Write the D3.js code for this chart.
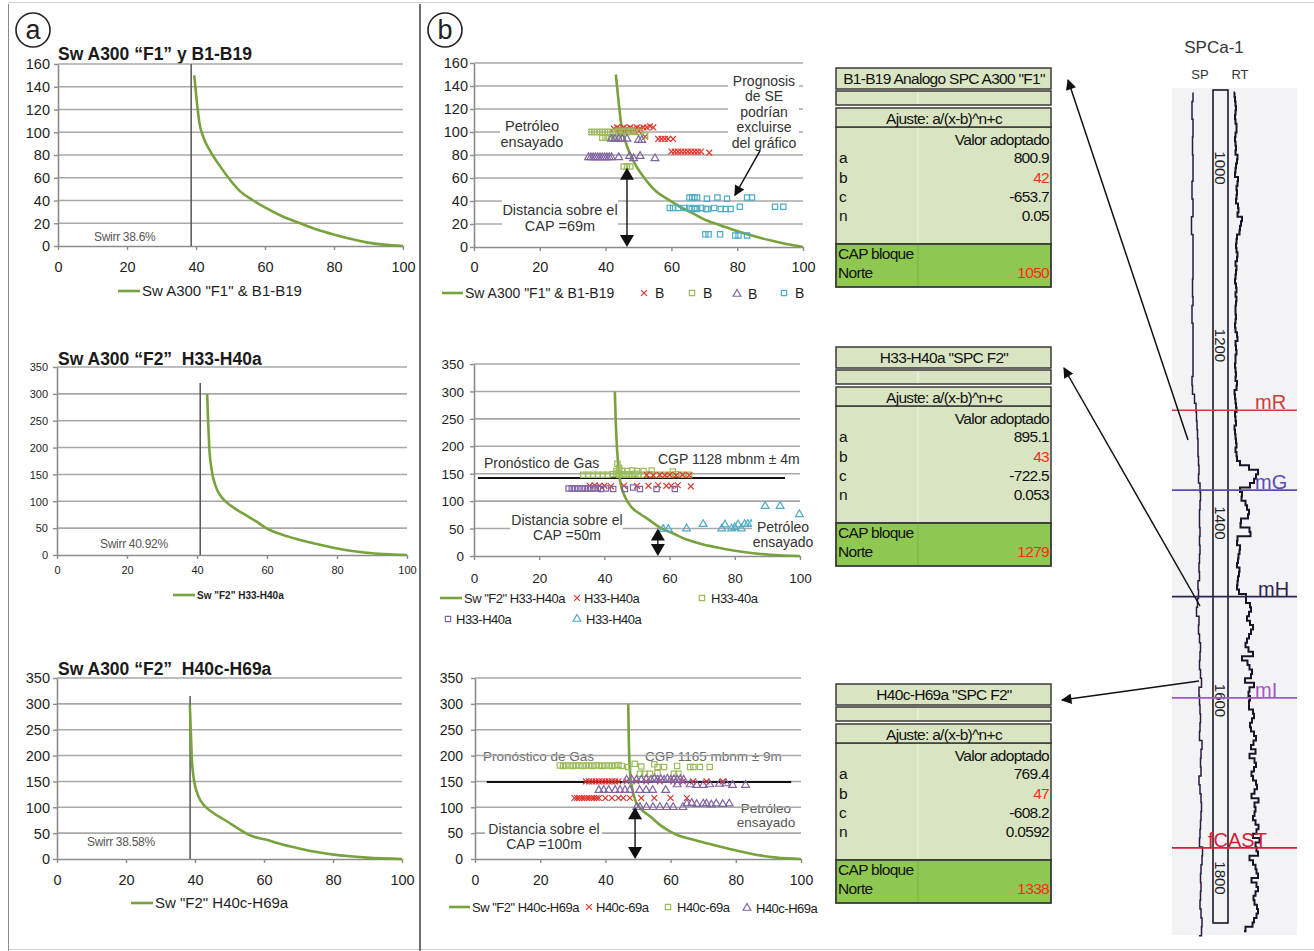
<!DOCTYPE html>
<html>
<head>
<meta charset="utf-8">
<script src="https://cdn.jsdelivr.net/npm/d3@7"></script>
<style>
  body { margin: 0; background: #fff; }
  svg { display: block; }
  text { font-family: 'Liberation Sans', Arial, sans-serif; }
</style>
</head>
<body>
<script>
// ---------- data ----------
const xTicks = [0, 20, 40, 60, 80, 100];
const yTicksF1 = [0, 20, 40, 60, 80, 100, 120, 140, 160];
const yTicksF2 = [0, 50, 100, 150, 200, 250, 300, 350];

// Saturation-height curves (Sw %, height m)
const swA300F1 = [[39.5,150],[40.2,128],[41,108],[42.1,96],[44,84],[47,70],[49.9,58],[52.8,48],[56.6,40],[60.5,33],[65.3,25.7],[70.2,20],[75,14.6],[79.9,10.2],[84.7,6.4],[89.5,3.2],[94.4,1.2],[100,0]];
const swF2H33 = [[42.9,300],[43.2,245],[43.5,201],[44.2,158],[45.4,127],[47,108],[49.4,93],[53.2,77],[57,62],[59.9,49.6],[64.7,37],[69.5,28],[74.2,20.4],[79,13.6],[83.8,8],[88.5,4.3],[93.3,1.9],[100,0]];
const swF2H40 = [[38.5,298],[38.8,244],[39.1,192],[39.7,153],[41,121],[42.9,102],[45.3,89],[49.2,73],[53,57],[55.5,47],[60.8,37],[65.6,27.7],[70.5,20],[75.3,13.5],[80.2,8.4],[85,5.2],[89.8,2.6],[100,0]];

const swB1B19 = [[43.1,150],[43.9,128],[44.7,107.6],[45.9,93],[47.4,81.4],[49.4,69.8],[51.5,61],[53.5,53.8],[55.5,48],[58.6,42],[62.6,35],[66.7,29],[70.8,23],[74.8,19],[79.9,14],[85,9.6],[90,5.8],[95,2.6],[100,0]];
const swH33fit = [[43.2,300],[43.5,242],[43.9,193],[44.5,150],[45.2,126],[46.3,108],[48.3,89],[50.9,77],[53.9,65],[57,52],[61.1,41],[65.2,30],[70.3,21],[75.4,14.6],[80.6,9],[85.7,4.9],[90.8,2.4],[100,0]];
const swH40fit = [[47,300],[47.2,224],[47.5,173],[48.1,140.5],[49.1,115],[50.6,99],[53.7,82.5],[56.7,66],[59.8,53.5],[61.9,47],[67,37],[72.1,29],[77.2,21],[82.3,13.5],[87.4,7],[92.5,2.6],[100,0]];

// Irreducible water saturation (%)
const swirrValues = [38.6, 40.92, 38.58];

// Log-derived points, B1-B19
const bTopRed = [[42.5,103],[43.5,104],[44.5,103],[45.5,104],[46.5,103],[47.5,104],[48.5,103],[49.5,104],[50.5,103],[51.5,104],[52.5,104],[53.5,105],[54.5,104],
  [44,100],[46,100],[48,100],[50,101],[52,96],
  [56,94],[57,94],[58,94],[59,94],[60.5,94],
  [60,83],[61,83],[62,83],[63,83],[64,83],[65,83],[66,83],[67,83],[68,83],[69,83],[71.5,82]];
const bTopGreen = [[35,100],[35.8,100],[36.6,100],[37.4,100],[38.2,100],[39,100],[39.8,100],[40.6,100],[41.4,100],[42.2,100],[43,100],[44,101],[45,100],[46,101],[47,100],[48,101],[49,100],[50.5,100],
  [39,95],[40,95],[41,95],[42,95],[43,95],[44,95],[52,97],
  [45.5,70],[46.5,70],[47.5,70]];
const bTopPurple = [[34.8,78],[35.5,78],[36.2,78],[36.9,78],[37.6,78],[38.3,78],[39,78],[39.7,78],[40.4,78],[41.1,78],[41.8,78],[44,78],[47.3,79],[48.5,77],[50.5,79],[55,77],
  [41.8,94],[42.8,94],[44,94],[45,94],[46.5,94],[50,93],[51,93]];
const bTopBlue = [[65.5,43],[66.3,43],[67,43],[67.8,43],[70.8,42],[74,43],[76.9,42],[83,43],[84.5,43],
  [59.5,34],[60.5,34],[62,34],[64,34],[65.5,34],[66.2,33],[67,34],[67.8,33],[69,34],[70.5,33],[71,33],[73,34],[75,33],[76.5,33],[78,33],[80.8,35],[91.5,35],[94,35],
  [70.3,11],[71.3,11],[74.8,11],[79.4,10],[80.4,10],[83,10]];

// Log-derived points, H33-H40a
const bMidRed = [[53,148],[55,147],[57,148],[58.5,147],[60,148],[62,147],[64,148],[66,147],
  [35.5,128],[37,129],[38.5,128],[40,128],[42,127],[46,128],[50,128],[53.5,128],[56.5,129],[59,128],[60.5,128],[62.5,129],[66.5,127]];
const bMidGreen = [[33.5,148],[35,148],[36.5,148],[38,148],[39.5,148],[41,148],[42.5,149],[43.5,150],[44.5,148],[45.5,149],[46.5,148],[47.5,149],[48.5,148],[49.5,150],[50.5,148],[52,148],[54,149],[56,148],[58,148],[60,148],[62,149],[64,148],[66,148],
  [43.7,155],[44.5,157],[45.5,155],[47,155],[48.5,156],[50,155],[52,155],[54.5,156],[61,154],[44,168],[44.5,161]];
const bMidPurple = [[29,123],[30,123],[31,123],[32,123],[33,123],[34,123],[35,123],[36,123],[37,123],[38,124],[39,122],[40.5,123],[42.7,122],[46.3,122],[48.8,125],[50.9,122],[56,122],[61.6,122]];
const bMidBlue = [[58,49],[59.6,49],[65.2,50],[70.3,58],[76,50],[77,57],[79,50],[80,52],[81,57],[82,50],[83,58],[84,58],[85,58],[89.3,91],[93.9,91],[99.8,76]];

// Log-derived points, H40c-H69a
const bBotRed = [[34,150],[35,150],[36,150],[37,150],[38,150],[39,150],[40,150],[41,150],[42,150],[43,150],[44,150],[46.5,150],[49.5,150],[52.5,150],[56.7,150],[60.8,150],[63.8,150],[66.9,150],[71,150],[76,150],
  [30.5,118],[31.3,118],[32,118],[32.8,118],[33.5,118],[34.3,118],[35,118],[35.8,118],[36.5,118],[37.3,118],[38,118],[40,118],[42,118],[44,118],[45.5,118],[47.5,118],[51,118],[55,118],[60,118],[65,118]];
const bBotGreen = [[26,181],[27,180],[28,181],[29,181],[30,180],[31,181],[32,181],[33,180],[34,181],[35,181],[36,180],[37,181],[38,181],[39,180],[40,181],[41,181],[42,180],[43,181],[44,182],[45,180],
  [47,178],[49,184],[51,179],[55,183],[56,178],[58,178],[62,180],[66,178],[67,178],[69,178],[72,178],
  [50.6,165],[52,165],[53.7,165],[56,166],[61,165],[62.4,165]];
const bBotPurple = [[46.5,153],[48,154],[49.5,153],[51,153],[52.5,154],[54,153],[55,155],[56,153],[57,154],[58,153],[59,155],[60,153],[61,154],[62,153],[63,154],[64,153],
  [62,144],[66,144],[68,143],[70,143],[72,144],[75,145],[77,146],[79,143],[83,143],
  [38,133],[39.5,133],[41,133],[43,133],[44.5,133],[46,133],[47.5,133],[50.5,133],[52.5,133],[54.5,133],[58.5,133],
  [49.6,100],[50.6,100],[52.6,100],[54.6,100],[56.7,100],[58.8,100],[60.8,100],[63.8,100],
  [65,107],[66.5,108],[68,106],[70,107],[71,107],[72.5,105],[74,107],[76,106],[78,107]];

// Gas forecast level (m above CAP) and distance above CAP (m)
const gasLevels = [142, 149];
const capDistances = [69, 50, 100];

// Fit tables
const tableTitles = ['B1-B19 Analogo SPC A300 "F1"', 'H33-H40a "SPC F2"', 'H40c-H69a "SPC F2"'];
const paramA = ['800.9', '895.1', '769.4'];
const paramB = ['42', '43', '47'];
const paramC = ['-653.7', '-722.5', '-608.2'];
const paramN = ['0.05', '0.053', '0.0592'];
const capNorte = ['1050', '1279', '1338'];

// Well SPCa-1 log
const depthLabels = [1000, 1200, 1400, 1600, 1800];
const topNames = ['mR', 'mG', 'mH', 'mI', 'fCAST'];
const topDepths = [1273, 1363, 1483, 1597, 1766];
const rtStart = 915, rtStep = 5;
const rtValues = [3,2,4,3,5,2,4,3,6,3, 4,2,5,3,4,7,3,5,2,4, 8,3,6,4,5,3,9,4,7,13, 5,11,4,6,3,5,4,7,3,4,
  5,3,4,2,6,3,4,5,3,4, 3,5,2,4,3,7,4,3,5,4, 3,4,2,5,3,4,6,3,2,4,3,5,
  4,2,5,3,2,4,3,5,4,3,6,4,12,22,30,18,26,10,
  6,14,5,22,8,26,6,12,5,30,7,4,6,10,5,8,4,6,9,5,7,4,6,8,
  20,8,28,10,24,6,30,12,26,8,22,5,28,14,6,25,10,30,8,18,26,9,24,12,
  22,12,30,14,26,10,28,16,32,11,27,20,15,30,18,26,13,29,19,31,14,25,28,17,30,15,27,20,33,16,26,29,18,31,21,14,28,19,30,22,17,32,20,27,16,29,21,31,18,26,15,12];
const spStart = 915, spStep = 10;
const spValues = [8,8,6,8,8,8,7,8,8,8, 8,6,8,8,8,5,8,8,8,8, 8,8,7,8,8,6,8,8,8,8, 8,8,8,6,9,10,12,11,13,12,
  14,12,15,13,14,16,15,15,14,15, 15,14,16,13,15,14,12,15,10,13, 15,12,17,14,16,13,18,15,13,16,
  14,17,13,16,18,14,17,15,13,17, 15,18,14,17,13,16,19,15,17,14, 18,13,17,15,19,14];

// ---------- styles ----------
const C = {
  curve: '#77a23c', red: '#e2332d', green: '#9bbb59', purple: '#8064a2', blue: '#4bacc6',
  grid: '#a8a8a8', axis: '#8c8c8c', text: '#1e1e1e', light: '#d9e5c2', dark: '#8fc850'
};

const svg = d3.select('body').append('svg').attr('width', 1314).attr('height', 951);
const defs = svg.append('defs');
defs.append('marker').attr('id', 'ah').attr('viewBox', '0 0 10 10')
  .attr('refX', 9).attr('refY', 5).attr('markerWidth', 8).attr('markerHeight', 7)
  .attr('orient', 'auto').append('path').attr('d', 'M0,0L10,5L0,10z').attr('fill', '#111');

// frame
svg.append('line').attr('x1', 8).attr('x2', 1314).attr('y1', 2.5).attr('y2', 2.5).attr('stroke', '#cfcfcf');
svg.append('line').attr('x1', 8).attr('x2', 1314).attr('y1', 949.5).attr('y2', 949.5).attr('stroke', '#cfcfcf');
svg.append('line').attr('x1', 8.5).attr('x2', 8.5).attr('y1', 4).attr('y2', 951).attr('stroke', '#8a8a8a');
svg.append('line').attr('x1', 420).attr('x2', 420).attr('y1', 4).attr('y2', 951).attr('stroke', '#707070').attr('stroke-width', 2);

// panel letters
[['a', 33], ['b', 445]].forEach(([t, cx]) => {
  svg.append('circle').attr('cx', cx).attr('cy', 30).attr('r', 17).attr('fill', '#fff').attr('stroke', '#222').attr('stroke-width', 1.6);
  svg.append('text').attr('x', cx).attr('y', 30).attr('dy', '0.33em').attr('text-anchor', 'middle')
    .attr('font-size', 27).attr('fill', '#222').text(t);
});

// ---------- helpers ----------
function chart(o) {
  const x = d3.scaleLinear().domain([0, 100]).range([o.left, o.right]);
  const y = d3.scaleLinear().domain([0, o.yMax]).range([o.bottom, o.top]);
  const root = svg.append('g');
  const under = root.append('g');
  root.append('g').selectAll('line').data(o.yTicks.slice(1)).join('line')
    .attr('x1', o.left).attr('x2', o.right).attr('y1', d => y(d)).attr('y2', d => y(d))
    .attr('stroke', C.grid).attr('stroke-width', 1.6);
  const ax = root.append('g').attr('transform', `translate(0,${o.bottom})`)
    .call(d3.axisBottom(x).tickValues(xTicks).tickSizeInner(4).tickSizeOuter(0));
  const ay = root.append('g').attr('transform', `translate(${o.left},0)`)
    .call(d3.axisLeft(y).tickValues(o.yTicks).tickSizeInner(4).tickSizeOuter(0));
  [ax, ay].forEach(a => {
    a.select('.domain').attr('stroke', C.axis).attr('stroke-width', 1.6);
    a.selectAll('.tick line').attr('stroke', C.axis).attr('stroke-width', 1.4);
    a.selectAll('text').attr('font-size', o.tick).attr('fill', C.text)
      .attr('font-family', "'Liberation Sans', Arial, sans-serif");
  });
  ax.selectAll('text').attr('y', o.xLab - o.bottom).attr('dy', '0.36em');
  ay.selectAll('text').attr('x', o.yLab).attr('dy', '0.34em');
  const marks = root.append('g');
  const over = root.append('g');
  return { x, y, under, marks, over };
}

function drawCurve(c, data) {
  c.marks.append('path').datum(data)
    .attr('d', d3.line().x(d => c.x(d[0])).y(d => c.y(d[1])).curve(d3.curveMonotoneX))
    .attr('fill', 'none').attr('stroke', C.curve).attr('stroke-width', 2.6);
}

const symType = { x: d3.symbolTimes || d3.symbolCross, sq: d3.symbolSquare, tri: d3.symbolTriangle };
const symSize = { x: 24, sq: 28, tri: 26 };
function symbolPath(type) { return d3.symbol().type(symType[type]).size(symSize[type])(); }

function drawPoints(c, data, type, color) {
  c.marks.append('g').selectAll('path').data(data).join('path')
    .attr('transform', d => `translate(${c.x(d[0])},${c.y(d[1])})`)
    .attr('d', symbolPath(type))
    .attr('fill', 'none').attr('stroke', color).attr('stroke-width', 1.2);
}

function legend(items, fs, weight, spacing) {
  items.forEach(it => {
    if (it.type === 'line') {
      svg.append('line').attr('x1', it.x).attr('x2', it.x2).attr('y1', it.y).attr('y2', it.y)
        .attr('stroke', C.curve).attr('stroke-width', 2.6);
    } else {
      svg.append('path').attr('transform', `translate(${it.x},${it.y})`).attr('d', symbolPath(it.type))
        .attr('fill', 'none').attr('stroke', it.color).attr('stroke-width', 1.2);
    }
    svg.append('text').attr('x', it.tx).attr('y', it.y).attr('dy', '0.35em')
      .attr('font-size', fs).attr('font-weight', weight || 'normal').attr('letter-spacing', spacing || 0)
      .attr('fill', C.text).text(it.text);
  });
}

function note(g, lines, x, yc, lh, fs, opts) {
  opts = opts || {};
  if (opts.box) {
    g.append('rect').attr('x', opts.box[0]).attr('y', opts.box[1])
      .attr('width', opts.box[2] - opts.box[0]).attr('height', opts.box[3] - opts.box[1]).attr('fill', '#fff');
  }
  lines.forEach((t, i) => {
    g.append('text').attr('x', x).attr('y', yc + i * lh).attr('dy', '0.35em')
      .attr('text-anchor', opts.anchor || 'middle').attr('font-size', fs)
      .attr('fill', opts.color || '#333').text(t);
  });
}

function swirr(c, v, topVal, label, lx, ly, fs) {
  c.marks.append('line').attr('x1', c.x(v)).attr('x2', c.x(v)).attr('y1', c.y(0)).attr('y2', c.y(topVal))
    .attr('stroke', '#555').attr('stroke-width', 1.5);
  c.over.append('text').attr('x', lx).attr('y', ly).attr('dy', '0.35em')
    .attr('font-size', fs).attr('fill', '#555').attr('letter-spacing', -0.3).text(label);
}

function dblArrow(c, xv, topVal, botVal) {
  const x0 = c.x(xv), yt = c.y(topVal), yb = c.y(botVal), h = 12, w = 7;
  c.over.append('line').attr('x1', x0).attr('x2', x0).attr('y1', yt + 4).attr('y2', yb - 4)
    .attr('stroke', '#111').attr('stroke-width', 1.4);
  c.over.append('path').attr('d', `M${x0},${yt}L${x0 - w},${yt + h}L${x0 + w},${yt + h}Z`).attr('fill', '#111');
  c.over.append('path').attr('d', `M${x0},${yb}L${x0 - w},${yb - h}L${x0 + w},${yb - h}Z`).attr('fill', '#111');
}

function title(t, x, y) {
  svg.append('text').attr('x', x).attr('y', y).attr('font-size', 17.5).attr('font-weight', 'bold')
    .attr('fill', '#1a1a1a').attr('xml:space', 'preserve').text(t);
}

// ---------- panel a ----------
title('Sw A300 \u201CF1\u201D y B1-B19', 58, 60);
const a1 = chart({ left: 58, right: 403, top: 64, bottom: 246, yMax: 160, yTicks: yTicksF1, tick: 14.5, xLab: 267, yLab: -8 });
swirr(a1, swirrValues[0], 160, 'Swirr 38.6%', 94, 237, 12);
drawCurve(a1, swA300F1);
legend([{ type: 'line', x: 118, x2: 140, y: 291, tx: 142, text: 'Sw A300 "F1" & B1-B19' }], 15);

title('Sw A300 \u201CF2\u201D\u00A0 H33-H40a', 58, 365);
const a2 = chart({ left: 57, right: 407, top: 367, bottom: 555, yMax: 350, yTicks: yTicksF2, tick: 11, xLab: 570, yLab: -9 });
swirr(a2, swirrValues[1], 320, 'Swirr 40.92%', 100, 544, 12);
drawCurve(a2, swF2H33);
legend([{ type: 'line', x: 173, x2: 195, y: 595, tx: 197, text: 'Sw "F2" H33-H40a' }], 10, 'bold');

title('Sw A300 \u201CF2\u201D\u00A0 H40c-H69a', 58, 675);
const a3 = chart({ left: 57, right: 402, top: 678, bottom: 859, yMax: 350, yTicks: yTicksF2, tick: 14.5, xLab: 880, yLab: -7 });
swirr(a3, swirrValues[2], 315, 'Swirr 38.58%', 87, 842, 12);
drawCurve(a3, swF2H40);
legend([{ type: 'line', x: 131, x2: 153, y: 903, tx: 155, text: 'Sw "F2" H40c-H69a' }], 15);

// ---------- panel b ----------
const b1 = chart({ left: 474, right: 803, top: 63, bottom: 247, yMax: 160, yTicks: yTicksF1, tick: 14.5, xLab: 267, yLab: -6 });
note(b1.over, ['Petróleo', 'ensayado'], 532, 126, 16, 14.5, { box: [500, 115, 588, 152] });
note(b1.over, ['Distancia sobre el', 'CAP =69m'], 560, 210, 16, 14.5, { box: [502, 196, 618, 234] });
note(b1.over, ['Prognosis', 'de SE', 'podrían', 'excluirse', 'del gráfico'], 764, 81, 15.5, 14, { box: [728, 72, 799, 152] });
drawCurve(b1, swB1B19);
drawPoints(b1, bTopRed, 'x', C.red);
drawPoints(b1, bTopGreen, 'sq', C.green);
drawPoints(b1, bTopPurple, 'tri', C.purple);
drawPoints(b1, bTopBlue, 'sq', C.blue);
dblArrow(b1, 46.5, capDistances[0], 0);
b1.over.append('line').attr('x1', b1.x(87)).attr('y1', b1.y(84)).attr('x2', b1.x(79.3)).attr('y2', b1.y(45))
  .attr('stroke', '#111').attr('stroke-width', 1.5).attr('marker-end', 'url(#ah)');
legend([
  { type: 'line', x: 442, x2: 463, y: 293, tx: 465, text: 'Sw A300 "F1" & B1-B19' },
  { type: 'x', color: C.red, x: 644, y: 293, tx: 655, text: 'B' },
  { type: 'sq', color: C.green, x: 692, y: 293, tx: 703, text: 'B' },
  { type: 'tri', color: C.purple, x: 737, y: 294, tx: 748, text: 'B' },
  { type: 'sq', color: C.blue, x: 784, y: 293, tx: 795, text: 'B' }
], 14);

const b2 = chart({ left: 474, right: 800, top: 364, bottom: 556, yMax: 350, yTicks: yTicksF2, tick: 13.5, xLab: 578, yLab: -10 });
note(b2.over, ['Pronóstico de Gas'], 484, 463, 0, 14, { anchor: 'start' });
note(b2.over, ['CGP 1128 mbnm ± 4m'], 658, 459, 0, 14, { anchor: 'start' });
note(b2.over, ['Distancia sobre el', 'CAP =50m'], 567, 520, 15, 14, { box: [510, 511, 623, 541] });
note(b2.over, ['Petróleo', 'ensayado'], 783, 527, 15, 14, { box: [752, 519, 813, 550] });
b2.marks.append('line').attr('x1', b2.x(1.2)).attr('x2', b2.x(95.4))
  .attr('y1', b2.y(gasLevels[0])).attr('y2', b2.y(gasLevels[0])).attr('stroke', '#111').attr('stroke-width', 2);
drawCurve(b2, swH33fit);
drawPoints(b2, bMidGreen, 'sq', C.green);
drawPoints(b2, bMidRed, 'x', C.red);
drawPoints(b2, bMidPurple, 'sq', C.purple);
drawPoints(b2, bMidBlue, 'tri', C.blue);
dblArrow(b2, 56.4, capDistances[1], 0);
legend([
  { type: 'line', x: 440, x2: 462, y: 598, tx: 464, text: 'Sw "F2" H33-H40a' },
  { type: 'x', color: C.red, x: 577, y: 598, tx: 584, text: 'H33-H40a' },
  { type: 'sq', color: C.green, x: 702, y: 598, tx: 711, text: 'H33-40a' },
  { type: 'sq', color: C.purple, x: 448, y: 619, tx: 456, text: 'H33-H40a' },
  { type: 'tri', color: C.blue, x: 577, y: 619, tx: 586, text: 'H33-H40a' }
], 13, 'normal', -0.5);

const b3 = chart({ left: 475, right: 801, top: 678, bottom: 859, yMax: 350, yTicks: yTicksF2, tick: 14, xLab: 880, yLab: -12 });
note(b3.under, ['Pronóstico de Gas'], 483, 756, 0, 13.5, { anchor: 'start', color: '#6a6a6a' });
note(b3.under, ['CGP 1165 mbnm ± 9m'], 645, 756, 0, 13.5, { anchor: 'start', color: '#6a6a6a' });
note(b3.under, ['Petróleo', 'ensayado'], 766, 808, 14, 13.5, { color: '#555' });
note(b3.over, ['Distancia sobre el', 'CAP =100m'], 544, 829, 15, 14, { box: [485, 820, 602, 851] });
b3.marks.append('line').attr('x1', b3.x(3.6)).attr('x2', b3.x(97))
  .attr('y1', b3.y(gasLevels[1])).attr('y2', b3.y(gasLevels[1])).attr('stroke', '#111').attr('stroke-width', 2);
drawCurve(b3, swH40fit);
drawPoints(b3, bBotGreen, 'sq', C.green);
drawPoints(b3, bBotRed, 'x', C.red);
drawPoints(b3, bBotPurple, 'tri', C.purple);
dblArrow(b3, 49.1, capDistances[2], 0);
legend([
  { type: 'line', x: 449, x2: 470, y: 907, tx: 472, text: 'Sw "F2" H40c-H69a' },
  { type: 'x', color: C.red, x: 589, y: 907, tx: 596, text: 'H40c-69a' },
  { type: 'sq', color: C.green, x: 668, y: 907, tx: 677, text: 'H40c-69a' },
  { type: 'tri', color: C.purple, x: 747, y: 908, tx: 756, text: 'H40c-H69a' }
], 13, 'normal', -0.5);

// ---------- fit tables ----------
function drawTable(i, top) {
  const L = 836, R = 1051, W = R - L;
  const g = svg.append('g');
  const tf = "'Liberation Sans Narrow','Liberation Sans',Arial,sans-serif";
  const box = (y0, h, fill, sw) => g.append('rect').attr('x', L).attr('y', top + y0).attr('width', W).attr('height', h)
    .attr('fill', fill).attr('stroke', '#3a3a3a').attr('stroke-width', sw || 1.5);
  // body block first, then the bordered rows on top
  g.append('rect').attr('x', L).attr('y', top + 59).attr('width', W).attr('height', 117)
    .attr('fill', C.light).attr('stroke', '#3a3a3a').attr('stroke-width', 1.5);
  g.append('line').attr('x1', 918).attr('x2', 918).attr('y1', top + 23).attr('y2', top + 176).attr('stroke', '#eef3e4');
  box(0, 21, C.light);
  box(23, 14, C.light);
  g.append('line').attr('x1', 918).attr('x2', 918).attr('y1', top + 24).attr('y2', top + 36).attr('stroke', '#f1f5ea');
  box(40, 19, C.light);
  box(176, 43, C.dark, 1.8);
  g.append('line').attr('x1', 918).attr('x2', 918).attr('y1', top + 177).attr('y2', top + 218).attr('stroke', '#7fb244');
  const txt = (t, x, y, anchor, color) => g.append('text').attr('x', x).attr('y', top + y).attr('dy', '0.35em')
    .attr('text-anchor', anchor).attr('font-family', tf).attr('font-size', 15.5).attr('letter-spacing', -0.7)
    .attr('fill', color || '#111').text(t);
  txt(tableTitles[i], 944, 11, 'middle');
  txt('Ajuste: a/(x-b)^n+c', 944, 51, 'middle');
  txt('Valor adoptado', 1049, 72, 'end');
  [['a', paramA[i], '#111'], ['b', paramB[i], '#ff2a1a'], ['c', paramC[i], '#111'], ['n', paramN[i], '#111']]
    .forEach(([k, v, col], j) => {
      txt(k, 839, 90 + j * 19.3, 'start');
      txt(v, 1049, 90 + j * 19.3, 'end', col);
    });
  txt('CAP bloque', 838, 186, 'start');
  txt('Norte', 838, 205, 'start');
  txt(capNorte[i], 1049, 205, 'end', '#ff2a1a');
}
drawTable(0, 68);
drawTable(1, 347);
drawTable(2, 684);

// ---------- well log SPCa-1 ----------
const yD = d3.scaleLinear().domain([1000, 1800]).range([168, 878]);
const xRT = d3.scaleLinear().domain([0, 50]).range([1232, 1282]);
const xSP = d3.scaleLinear().domain([0, 30]).range([1185, 1215]);
svg.append('rect').attr('x', 1172).attr('y', 88).attr('width', 125).attr('height', 847).attr('fill', '#f3f3f5');
svg.append('text').attr('x', 1214).attr('y', 53).attr('text-anchor', 'middle').attr('font-size', 17).attr('fill', '#333').text('SPCa-1');
svg.append('text').attr('x', 1200).attr('y', 79).attr('text-anchor', 'middle').attr('font-size', 13).attr('fill', '#333').text('SP');
svg.append('text').attr('x', 1240).attr('y', 79).attr('text-anchor', 'middle').attr('font-size', 13).attr('fill', '#333').text('RT');

// depth track
const track = svg.append('g');
track.append('rect').attr('x', 1213).attr('y', 90).attr('width', 15).attr('height', 833)
  .attr('fill', 'none').attr('stroke', '#1a1a2a').attr('stroke-width', 1.6);
depthLabels.forEach(d => {
  track.append('text').attr('transform', `translate(1220.5,${yD(d)}) rotate(90)`)
    .attr('text-anchor', 'middle').attr('dy', '0.35em').attr('font-family', "'DejaVu Sans Mono', monospace")
    .attr('font-size', 15).attr('fill', '#222').text(d);
});

// log curves
const rtPts = rtValues.map((v, i) => [rtStart + i * rtStep, v]);
const spPts = spValues.map((v, i) => [spStart + i * spStep, v]);
svg.append('path').datum(spPts)
  .attr('d', d3.line().x(d => xSP(d[1])).y(d => yD(d[0])).curve(d3.curveStep))
  .attr('fill', 'none').attr('stroke', '#2a1d40').attr('stroke-width', 1.5);
svg.append('path').datum(rtPts)
  .attr('d', d3.line().x(d => xRT(d[1])).y(d => yD(d[0])).curve(d3.curveStep))
  .attr('fill', 'none').attr('stroke', '#1b1428').attr('stroke-width', 2);

// formation tops
const topColors = ['#d03c3c', '#5a4cb8', '#2e2650', '#a058c8', '#d41e3a'];
const topLabelX = [1255, 1255, 1258, 1255, 1208];
topNames.forEach((n, i) => {
  svg.append('line').attr('x1', 1172).attr('x2', 1297).attr('y1', yD(topDepths[i])).attr('y2', yD(topDepths[i]))
    .attr('stroke', topColors[i]).attr('stroke-width', 1.6);
  svg.append('text').attr('x', topLabelX[i]).attr('y', yD(topDepths[i]) - 1)
    .attr('font-family', "'DejaVu Sans Mono', monospace").attr('font-size', 20)
    .attr('fill', topColors[i]).text(n);
});

// links from log intervals to fit tables
[[1188, 440, 1068, 80], [1200, 606, 1064, 368], [1199, 681, 1062, 700]].forEach(([x1, y1, x2, y2]) => {
  svg.append('line').attr('x1', x1).attr('y1', y1).attr('x2', x2).attr('y2', y2)
    .attr('stroke', '#111').attr('stroke-width', 1.5).attr('marker-end', 'url(#ah)');
});
</script>
</body>
</html>
